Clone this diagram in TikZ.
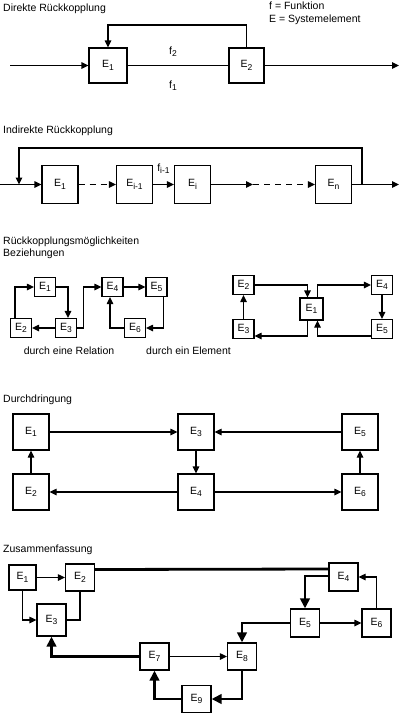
\documentclass[tikz,border=0pt]{standalone}
\usepackage{fontspec}
\setmainfont{Liberation Sans}
\usetikzlibrary{arrows.meta}
\newcommand\lowidx[1]{\raisebox{-0.45ex}{\fontsize{8.5}{9}\selectfont #1}}

\begin{document}
\begin{tikzpicture}[x=1pt,y=-1pt,
  every node/.style={font=\fontsize{10.5}{12.5}\selectfont,inner sep=0pt},
  elem/.style={draw,line width=1.2pt,minimum width=29,minimum height=27},
  link/.style={line width=1.2pt,-{Triangle[length=7pt,width=6.5pt]}},
  plain/.style={line width=1.2pt},
  heavy/.style={line width=2.8pt},
  heavyarrow/.style={line width=2.8pt,-{Triangle[length=10pt,width=9.5pt]}},
  dashline/.style={dash pattern=on 6pt off 5pt},
  title/.style={anchor=west}]
  \useasboundingbox (0,0) rectangle (401,715);

  % Direkte Rueckkopplung
  \node[title] (t1) at (3,9) {Direkte Rückkopplung};
  \node[anchor=north west,align=left] (leg) at (269,2) {f = Funktion\\E = Systemelement};
  \node[elem,minimum width=38,minimum height=35] (d1) at (108,65.5) {E\lowidx{1}};
  \node[elem,minimum width=35,minimum height=35] (d2) at (246.5,65.5) {E\lowidx{2}};
  \coordinate (din) at (10,65.5);
  \coordinate (dout) at (399,65.5);
  \coordinate (dback) at (108,25);
  \draw[link] (din) -- (d1);
  \draw[plain] (d1) -- node[pos=.45,yshift=14] (f2) {f\lowidx{2}} node[pos=.45,yshift=-20] (f1) {f\lowidx{1}} (d2);
  \draw[link] (d2) -- (dout);
  \draw[link] (d2.north) |- (dback) -- (d1.north);

  % Indirekte Rueckkopplung
  \node[title] (t2) at (3,131) {Indirekte Rückkopplung};
  \node[elem,minimum width=36,minimum height=38] (i1) at (60,184.5) {E\lowidx{1}};
  \node[elem,minimum width=36,minimum height=38] (i2) at (134.5,184.5) {E\lowidx{i-1}};
  \node[elem,minimum width=36,minimum height=38] (i3) at (192.5,184.5) {E\lowidx{i}};
  \node[elem,minimum width=36,minimum height=38] (i4) at (333.5,184.5) {E\lowidx{n}};
  \coordinate (iin) at (0,184.5);
  \coordinate (iout) at (399,184.5);
  \coordinate (imid) at (253,184.5);
  \coordinate (ibranch) at (362,184.5);
  \coordinate (ijoin) at (19,184.5);
  \draw[link] (iin) -- (i1);
  \draw[link] (ibranch) -- ++(0,-36.5) -| (ijoin);
  \draw[link,dashline] (i1) -- (i2);
  \draw[link] (i2) -- node[yshift=16] (fi) {f\lowidx{i-1}} (i3);
  \draw[link] (i3) -- (imid);
  \draw[link,dashline] (imid) -- (i4);
  \draw[link] (i4) -- (iout);

  % Rueckkopplungsmoeglichkeiten
  \node[title] (t3) at (3,242) {Rückkopplungsmöglichkeiten};
  \node[title] (t3b) at (3,254) {Beziehungen};
  \node[elem,minimum width=21,minimum height=19] (r1) at (45,287) {E\lowidx{1}};
  \node[elem,minimum width=21,minimum height=19] (r4) at (112.5,287) {E\lowidx{4}};
  \node[elem,minimum width=21,minimum height=19] (r5) at (156.5,287) {E\lowidx{5}};
  \node[elem,minimum width=21,minimum height=19] (r2) at (21,328) {E\lowidx{2}};
  \node[elem,minimum width=21,minimum height=19] (r3) at (66,328) {E\lowidx{3}};
  \node[elem,minimum width=21,minimum height=19] (r6) at (135,328) {E\lowidx{6}};
  \draw[link] ([xshift=-6]r2.north) |- (r1);
  \draw[link] (r1) -| ([xshift=2]r3.north);
  \draw[link] (r3) -- (r2);
  \draw[link] (r3.east) -- ++(6,0) |- (r4);
  \draw[link] (r4) -- (r5);
  \draw[link] ([xshift=7]r5.south) |- (r6);
  \draw[link] (r6) -| ([xshift=-2.5]r4.south);
  \node (rel) at (69,351) {durch eine Relation};
  \node (ele) at (188.5,351) {durch ein Element};

  \node[elem,minimum width=21,minimum height=19] (s2) at (243.5,285) {E\lowidx{2}};
  \node[elem,minimum width=21,minimum height=19] (s3) at (243.5,329) {E\lowidx{3}};
  \node[elem,minimum width=23,minimum height=22] (s1) at (311.5,309) {E\lowidx{1}};
  \node[elem,minimum width=21,minimum height=19] (s4) at (382,285) {E\lowidx{4}};
  \node[elem,minimum width=21,minimum height=19] (s5) at (382,329) {E\lowidx{5}};
  \draw[link] (s2) -| ([xshift=-4]s1.north);
  \draw[link] ([xshift=6]s1.north) |- (s4);
  \draw[link] (s4) -- (s5);
  \draw[link] ([yshift=-7]s5.west) -| ([xshift=6]s1.south);
  \draw[link] ([xshift=-4]s1.south) |- ([yshift=-7]s3.east);
  \draw[link] (s3) -- (s2);

  % Durchdringung
  \node[title] (t4) at (3,400) {Durchdringung};
  \node[elem,minimum width=36,minimum height=36] (p1) at (31,432) {E\lowidx{1}};
  \node[elem,minimum width=36,minimum height=36] (p3) at (196,432) {E\lowidx{3}};
  \node[elem,minimum width=36,minimum height=36] (p5) at (360,432) {E\lowidx{5}};
  \node[elem,minimum width=36,minimum height=36] (p2) at (31,492) {E\lowidx{2}};
  \node[elem,minimum width=36,minimum height=36] (p4) at (196,492) {E\lowidx{4}};
  \node[elem,minimum width=36,minimum height=36] (p6) at (360,492) {E\lowidx{6}};
  \draw[link] (p1) -- (p3);
  \draw[link] (p5) -- (p3);
  \draw[link] (p3) -- (p4);
  \draw[link] (p4) -- (p2);
  \draw[link] (p4) -- (p6);
  \draw[link] (p2) -- (p1);
  \draw[link] (p6) -- (p5);

  % Zusammenfassung
  \node[title] (t5) at (3,550) {Zusammenfassung};
  \node[elem,minimum width=27,minimum height=25] (z1) at (22.5,577.5) {E\lowidx{1}};
  \node[elem] (z2) at (80,577.5) {E\lowidx{2}};
  \node[elem,minimum height=32] (z3) at (51.5,620) {E\lowidx{3}};
  \node[elem,minimum height=28] (z4) at (343.5,577) {E\lowidx{4}};
  \node[elem,minimum height=28] (z5) at (305,623) {E\lowidx{5}};
  \node[elem,minimum height=28] (z6) at (376.5,623) {E\lowidx{6}};
  \node[elem] (z7) at (154.5,656.5) {E\lowidx{7}};
  \node[elem] (z8) at (242,656.5) {E\lowidx{8}};
  \node[elem] (z9) at (196.5,699) {E\lowidx{9}};
  \draw[link] (z1) -- (z2);
  \draw[link] (z1.south) |- (z3);
  \draw[heavy] (z2.south) |- (z3);
  \draw[heavy] ([yshift=8]z2.east) -- ([yshift=8]z4.west);
  \draw[heavyarrow] ([yshift=1]z4.west) -| (z5.north);
  \draw[link] (z6.north) |- (z4);
  \draw[link] (z5) -- (z6);
  \draw[heavyarrow] (z5) -| (z8.north);
  \draw[link] (z7) -- (z8);
  \draw[heavyarrow] (z7) -| (z3.south);
  \draw[heavyarrow] (z8) |- (z9);
  \draw[heavyarrow] (z9) -| (z7.south);
\end{tikzpicture}
\end{document}
